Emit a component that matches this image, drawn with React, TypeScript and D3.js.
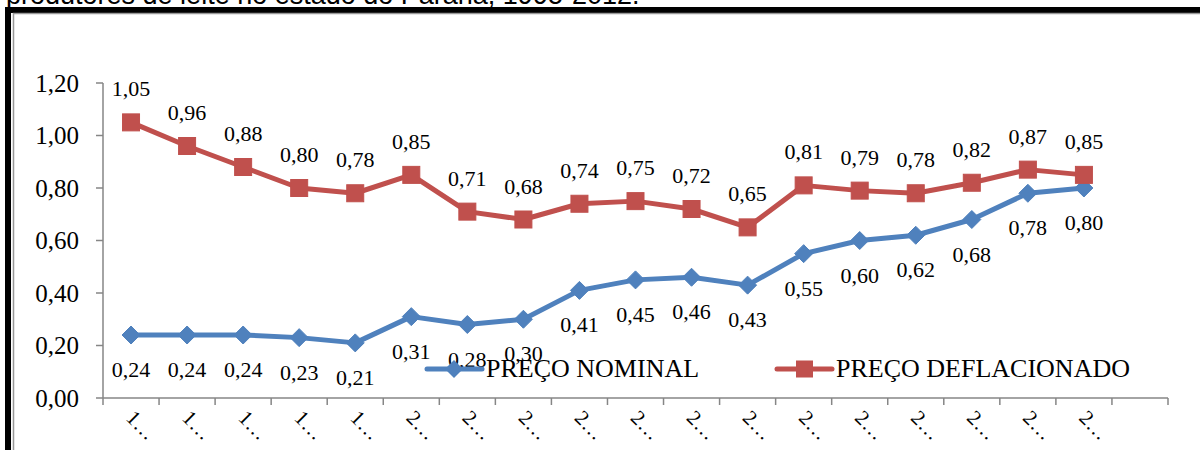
import React from "react";
import * as d3 from "d3";

// Milk price received by producers in Paraná, 1995-2012 (R$/litre)
const years = [
  "1995", "1996", "1997", "1998", "1999", "2000", "2001", "2002", "2003",
  "2004", "2005", "2006", "2007", "2008", "2009", "2010", "2011", "2012", "",
];
const nominal = [
  0.24, 0.24, 0.24, 0.23, 0.21, 0.31, 0.28, 0.3, 0.41, 0.45, 0.46, 0.43,
  0.55, 0.6, 0.62, 0.68, 0.78, 0.8,
];
const deflated = [
  1.05, 0.96, 0.88, 0.8, 0.78, 0.85, 0.71, 0.68, 0.74, 0.75, 0.72, 0.65,
  0.81, 0.79, 0.78, 0.82, 0.87, 0.85,
];
const yTicks = [0, 0.2, 0.4, 0.6, 0.8, 1.0, 1.2];
const seriesNames = ["PREÇO NOMINAL", "PREÇO DEFLACIONADO"];
const title = "produtores de leite no estado do Paraná, 1995-2012.";

const W = 1200;
const H = 450;
const BLUE = "#4F81BD";
const RED = "#C0504D";
const AXIS = "#868686";
const SERIF = "'Liberation Serif', 'Times New Roman', serif";

const fmt = (v: number) => v.toFixed(2).replace(".", ",");

export default function App() {
  const x = d3.scaleBand<string>().domain(years).range([103, 1168]).padding(0);
  const y = d3.scaleLinear().domain([0, 1.2]).range([398, 83]);
  const cx = (i: number) => (x(years[i]) as number) + x.bandwidth() / 2;

  const line = d3
    .line<number>()
    .x((_, i) => cx(i))
    .y((d) => y(d));

  const diamond = (px: number, py: number, r: number) =>
    `M${px},${py - r}L${px + r},${py}L${px},${py + r}L${px - r},${py}Z`;

  const boundaries = d3.range(years.length + 1).map((k) => 103 + k * x.step());

  return (
    <svg
      width={W}
      height={H}
      style={{ position: "absolute", left: 0, top: 0, display: "block", background: "#fff" }}
    >
      <rect x={0} y={0} width={W} height={H} fill="#fff" />
      {/* caption line cut by the frame */}
      <text
        x={6}
        y={4}
        fontFamily="'Liberation Sans', Arial, sans-serif"
        fontSize={27}
        fill="#000"
      >
        {title}
      </text>

      {/* frame */}
      <path d={`M8,${H + 5}V10H${W + 5}`} fill="none" stroke="#000" strokeWidth={6} />
      <path d={`M13.5,${H + 5}V13.5H${W + 5}`} fill="none" stroke="#999" strokeWidth={1.5} />

      {/* y axis */}
      <line x1={103} x2={103} y1={y(1.2)} y2={y(0)} stroke={AXIS} strokeWidth={1.5} />
      {yTicks.map((t) => (
        <g key={t}>
          <line x1={96} x2={103} y1={y(t)} y2={y(t)} stroke={AXIS} strokeWidth={1.5} />
          <text
            x={79}
            y={y(t)}
            dy="0.35em"
            textAnchor="end"
            fontFamily={SERIF}
            fontSize={25}
            fill="#000"
          >
            {fmt(t)}
          </text>
        </g>
      ))}

      {/* x axis */}
      <line x1={103} x2={1168} y1={y(0)} y2={y(0)} stroke={AXIS} strokeWidth={1.5} />
      {boundaries.map((bx, k) => (
        <line key={k} x1={bx} x2={bx} y1={y(0)} y2={y(0) + 7} stroke={AXIS} strokeWidth={1.5} />
      ))}
      {years.map((yr, i) =>
        yr ? (
          <text
            key={yr}
            transform={`translate(${cx(i) - 6},${419}) rotate(45)`}
            fontFamily={SERIF}
            fontSize={21}
            fill="#000"
          >
            {yr.charAt(0) + "…"}
          </text>
        ) : null
      )}

      {/* series lines */}
      <path d={line(nominal) || ""} fill="none" stroke={BLUE} strokeWidth={5} strokeLinejoin="round" />
      <path d={line(deflated) || ""} fill="none" stroke={RED} strokeWidth={5} strokeLinejoin="round" />

      {/* markers */}
      {nominal.map((v, i) => (
        <path key={"n" + i} d={diamond(cx(i), y(v), 9)} fill={BLUE} stroke={BLUE} strokeWidth={1} />
      ))}
      {deflated.map((v, i) => (
        <rect
          key={"d" + i}
          x={cx(i) - 8.5}
          y={y(v) - 8.5}
          width={17}
          height={17}
          fill={RED}
          stroke={RED}
          strokeWidth={1}
        />
      ))}

      {/* value labels */}
      {deflated.map((v, i) => (
        <text
          key={"dl" + i}
          x={cx(i)}
          y={y(v) - 26}
          textAnchor="middle"
          fontFamily={SERIF}
          fontSize={22}
          fill="#000"
        >
          {fmt(v)}
        </text>
      ))}
      {nominal.map((v, i) => (
        <text
          key={"nl" + i}
          x={cx(i)}
          y={y(v) + 42}
          textAnchor="middle"
          fontFamily={SERIF}
          fontSize={22}
          fill="#000"
        >
          {fmt(v)}
        </text>
      ))}

      {/* legend */}
      <g>
        <line x1={427} x2={482} y1={369} y2={369} stroke={BLUE} strokeWidth={5} strokeLinecap="round" />
        <path d={diamond(454, 369, 9)} fill={BLUE} />
        <text x={486} y={377} fontFamily={SERIF} fontSize={26} fill="#000">
          {seriesNames[0]}
        </text>
        <line x1={777} x2={832} y1={369} y2={369} stroke={RED} strokeWidth={5} strokeLinecap="round" />
        <rect x={796} y={360.5} width={17} height={17} fill={RED} />
        <text x={836} y={377} fontFamily={SERIF} fontSize={26} fill="#000">
          {seriesNames[1]}
        </text>
      </g>
    </svg>
  );
}
